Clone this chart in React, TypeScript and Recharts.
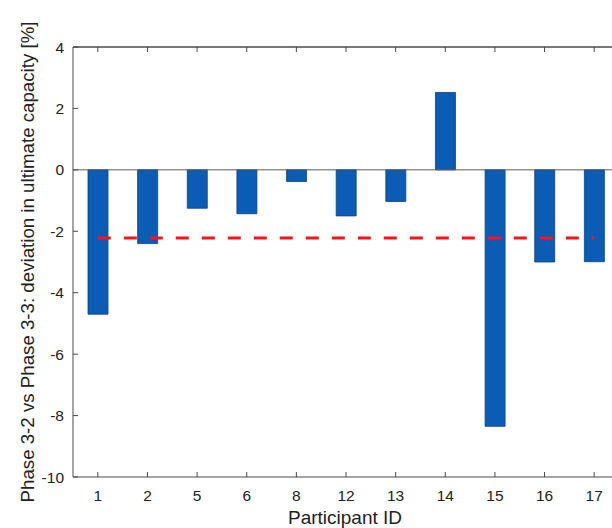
import React from 'react';
import { ComposedChart, Bar, Line, XAxis, YAxis, ReferenceLine } from 'recharts';

const participantIds = ['1', '2', '5', '6', '8', '12', '13', '14', '15', '16', '17'];
const deviation = [-4.7, -2.4, -1.25, -1.43, -0.38, -1.5, -1.03, 2.52, -8.35, -3.0, -2.99];
const meanDeviation = -2.22;
const yTicks = [-10, -8, -6, -4, -2, 0, 2, 4];

const data = participantIds.map((id, i) => ({ id, deviation: deviation[i], mean: meanDeviation }));

const FONT = '"Liberation Sans", Arial, Helvetica, sans-serif';
const TEXT = '#222222';
const AXIS = '#4a4a4a';

const BottomTick = (props: any) => {
  const { x, y, payload } = props;
  return (
    <g>
      <line x1={x} y1={y} x2={x} y2={y - 5} stroke={AXIS} strokeWidth={1} />
      <text x={x} y={y + 24} textAnchor="middle" fontFamily={FONT} fontSize={15.5} fill={TEXT}>
        {payload.value}
      </text>
    </g>
  );
};

const TopTick = (props: any) => {
  const { x, y } = props;
  return <line x1={x} y1={y} x2={x} y2={y + 5} stroke={AXIS} strokeWidth={1} />;
};

const LeftTick = (props: any) => {
  const { x, y, payload } = props;
  return (
    <g>
      <line x1={x} y1={y} x2={x + 5} y2={y} stroke={AXIS} strokeWidth={1} />
      <text x={x - 9} y={y + 5.5} textAnchor="end" fontFamily={FONT} fontSize={15.5} fill={TEXT}>
        {payload.value}
      </text>
    </g>
  );
};

export default function App() {
  return (
    <div style={{ position: 'absolute', left: 0, top: 0, width: 612, height: 528, overflow: 'hidden', background: '#fff' }}>
      <ComposedChart
        width={640}
        height={528}
        data={data}
        margin={{ top: 46, right: 21, bottom: 0, left: 13 }}
      >
        <XAxis
          dataKey="id"
          xAxisId={0}
          height={51}
          tickSize={0}
          tickMargin={0}
          tickLine={false}
          axisLine={{ stroke: AXIS, strokeWidth: 1 }}
          tick={BottomTick}
          interval={0}
          label={{
            content: () => (
              <text x={345} y={524} textAnchor="middle" fontFamily={FONT} fontSize={19} fill={TEXT}>
                Participant ID
              </text>
            ),
          }}
        />
        <XAxis
          dataKey="id"
          xAxisId="top"
          orientation="top"
          height={1}
          tickSize={0}
          tickMargin={0}
          tickLine={false}
          axisLine={{ stroke: AXIS, strokeWidth: 1 }}
          tick={TopTick}
          interval={0}
        />
        <YAxis
          width={60}
          domain={[-10, 4]}
          ticks={yTicks}
          type="number"
          allowDataOverflow
          tickSize={0}
          tickMargin={0}
          tickLine={false}
          axisLine={{ stroke: AXIS, strokeWidth: 1 }}
          tick={LeftTick}
          interval={0}
          label={{
            content: () => (
              <text
                x={34}
                y={262}
                transform="rotate(-90 34 262)"
                textAnchor="middle"
                fontFamily={FONT}
                fontSize={18.7}
                fill={TEXT}
              >
                Phase 3-2 vs Phase 3-3: deviation in ultimate capacity [%]
              </text>
            ),
          }}
        />
        <ReferenceLine y={4} stroke={AXIS} strokeWidth={1} />
        <ReferenceLine y={0} stroke="#5a5a5a" strokeWidth={1} />
        <Bar
          dataKey="deviation"
          barSize={20}
          fill="#0b5cb5"
          stroke="#0a4286"
          strokeWidth={0.8}
          isAnimationActive={false}
        />
        <Line
          dataKey="mean"
          type="linear"
          stroke="#ff1414"
          strokeWidth={3}
          strokeDasharray="13 13"
          dot={false}
          activeDot={false}
          isAnimationActive={false}
        />
      </ComposedChart>
    </div>
  );
}
